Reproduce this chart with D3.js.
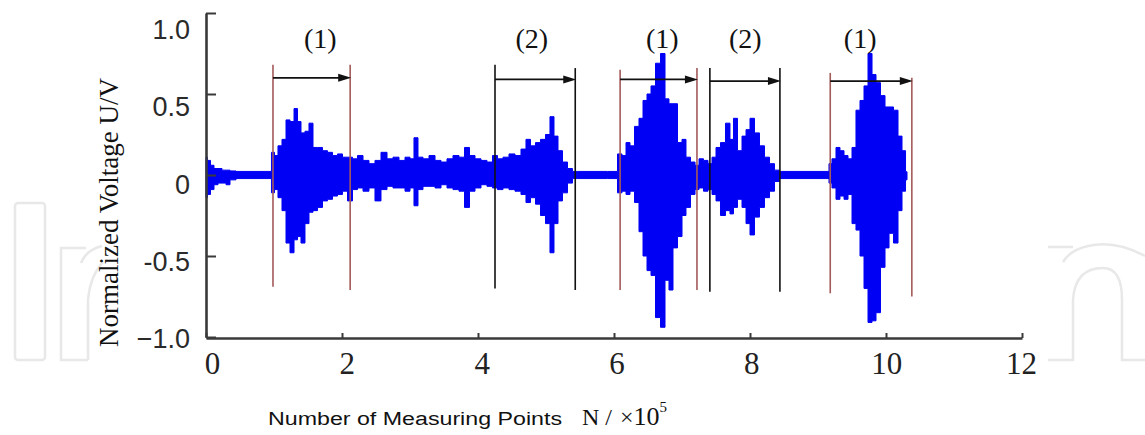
<!DOCTYPE html>
<html><head><meta charset="utf-8">
<script src="https://cdn.jsdelivr.net/npm/d3@7"></script>
<style>body{margin:0;background:#fff}svg{display:block}</style>
</head><body>
<svg id="c" width="1145" height="435"></svg>
<script>
// ---- data (x in units of 10^5 measuring points, y normalized voltage) ----
const xTicks = [0, 2, 4, 6, 8, 10, 12];
const xTickLabels = ["0", "2", "4", "6", "8", "10", "12"];
const yTicks = [1, 0.5, 0, -0.5, -1];
const yTickLabels = ["1.0", "0.5", "0", "-0.5", "\u22121.0"];

const sigN = [0.000,0.044,0.088,0.147,0.206,0.265,0.324,0.382,0.500,0.647,0.794,0.941,
  0.985,1.029,1.088,1.147,1.206,1.265,1.324,1.368,1.426,1.485,1.544,1.603,1.676,1.750,1.824,1.897,1.971,2.044,2.118,
  2.191,2.265,2.353,2.441,2.529,2.618,2.706,2.794,2.882,2.971,3.029,3.088,3.147,3.235,3.324,3.412,3.500,3.588,3.676,3.765,3.838,3.912,4.000,4.088,4.176,
  4.250,4.324,4.412,4.500,4.588,4.676,4.735,4.809,4.882,4.956,5.029,5.088,5.147,5.206,5.279,5.353,5.426,
  5.500,5.794,6.015,
  6.088,6.147,6.206,6.265,6.338,6.397,6.456,6.515,6.574,6.647,6.721,6.779,6.838,6.897,6.971,7.029,7.088,7.162,7.221,
  7.279,7.353,7.412,7.471,7.529,7.603,7.676,7.735,7.779,7.853,7.912,7.971,8.029,8.103,8.176,8.250,8.324,8.397,8.471,
  8.588,8.882,9.147,
  9.176,9.235,9.294,9.353,9.412,9.471,9.529,9.588,9.647,9.706,9.765,9.824,9.882,9.956,10.015,10.074,10.147,10.206,10.265,10.309];
const sigHi = [0.11,0.09,0.06,0.04,0.04,0.03,0.03,0.025,0.022,0.022,0.022,0.022,
  0.14,0.12,0.18,0.22,0.34,0.33,0.41,0.33,0.26,0.27,0.32,0.17,0.17,0.15,0.14,0.12,0.13,0.11,0.11,
  0.10,0.12,0.09,0.07,0.09,0.14,0.10,0.11,0.09,0.11,0.10,0.23,0.11,0.10,0.12,0.09,0.08,0.10,0.12,0.11,0.17,0.12,0.10,0.09,0.08,
  0.12,0.10,0.11,0.13,0.12,0.16,0.22,0.18,0.20,0.22,0.25,0.36,0.24,0.15,0.08,0.04,0.022,
  0.022,0.022,0.022,
  0.13,0.12,0.20,0.18,0.30,0.35,0.46,0.50,0.55,0.69,0.75,0.47,0.44,0.44,0.20,0.22,0.11,0.08,0.06,
  0.10,0.09,0.07,0.11,0.17,0.20,0.32,0.22,0.35,0.15,0.24,0.28,0.35,0.26,0.18,0.11,0.07,0.03,0.022,
  0.022,0.022,0.022,
  0.07,0.10,0.17,0.15,0.12,0.10,0.17,0.40,0.46,0.55,0.75,0.62,0.57,0.49,0.42,0.42,0.40,0.24,0.15,0.02];
const sigLo = [-0.14,-0.12,-0.09,-0.06,-0.05,-0.05,-0.06,-0.03,-0.022,-0.022,-0.022,-0.022,
  -0.11,-0.09,-0.14,-0.22,-0.42,-0.48,-0.40,-0.38,-0.42,-0.30,-0.23,-0.22,-0.20,-0.16,-0.15,-0.13,-0.12,-0.10,-0.16,
  -0.09,-0.08,-0.10,-0.08,-0.16,-0.09,-0.07,-0.08,-0.08,-0.10,-0.08,-0.19,-0.09,-0.07,-0.07,-0.08,-0.06,-0.08,-0.09,-0.10,-0.20,-0.10,-0.08,-0.06,-0.07,
  -0.08,-0.09,-0.08,-0.09,-0.10,-0.12,-0.17,-0.14,-0.18,-0.25,-0.30,-0.48,-0.30,-0.16,-0.11,-0.05,-0.022,
  -0.022,-0.022,-0.022,
  -0.11,-0.10,-0.12,-0.10,-0.17,-0.35,-0.50,-0.59,-0.62,-0.88,-0.94,-0.65,-0.71,-0.45,-0.38,-0.25,-0.20,-0.12,-0.09,
  -0.08,-0.10,-0.09,-0.12,-0.16,-0.25,-0.22,-0.24,-0.20,-0.15,-0.20,-0.30,-0.37,-0.26,-0.20,-0.14,-0.10,-0.04,-0.022,
  -0.022,-0.022,-0.022,
  -0.05,-0.08,-0.15,-0.13,-0.15,-0.12,-0.30,-0.34,-0.50,-0.70,-0.91,-0.90,-0.85,-0.57,-0.45,-0.36,-0.42,-0.22,-0.10,-0.03];

// segments (1)/(2)
const segStart = [0.985, 4.25, 6.09, 7.41, 9.18];
const segEnd   = [2.12, 5.43, 7.22, 8.44, 10.38];
const segType  = [1, 2, 1, 2, 1];
const segLabel = ["(1)", "(2)", "(1)", "(2)", "(1)"];
const segLabelN = [1.68, 4.79, 6.71, 7.93, 9.62];
const segTopL = [0.68, 0.68, 0.65, 0.66, 0.63];
const segTopR = [0.68, 0.66, 0.66, 0.66, 0.60];
const segBotL = [-0.69, -0.70, -0.71, -0.72, -0.73];
const segBotR = [-0.71, -0.71, -0.71, -0.72, -0.75];
const arrowV  = [0.60, 0.59, 0.59, 0.58, 0.58];
const labelV = 0.79;

// ---- drawing ----
const svg = d3.select("#c");
const x = d3.scaleLinear().domain([0, 12]).range([206, 1022]);
const y = d3.scaleLinear().domain([-1, 1]).range([337, 13]);
const xLab = d3.scaleLinear().domain([0, 12]).range([212, 1021]);
const yLab = d3.scaleLinear().domain([-1, 1]).range([338, 29]);

// watermark
const wm = svg.append("g").attr("fill", "none").attr("stroke", "#e8e8e8").attr("stroke-width", 2.5);
wm.append("rect").attr("x", 15).attr("y", 203).attr("width", 30).attr("height", 157).attr("rx", 3);
wm.append("path").attr("d", "M88 360 L61 360 L61 248 L86 248 M81 263 Q86 250 102 246 M88 360 L88 300 Q90 276 103 262");
wm.append("path").attr("d", "M1048 247 L1073 247 M1063 262 Q1070 250 1088 246 Q1115 240 1145 256 M1048 360 L1073 360 L1073 300 Q1075 268 1103 268 Q1122 268 1122 300 L1122 360 L1145 360");

// signal
const sig = sigN.map((n, i) => ({n, hi: sigHi[i], lo: sigLo[i]}));
const area = d3.area().x(d => x(d.n)).y0(d => y(d.lo)).y1(d => y(d.hi)).curve(d3.curveStep);
svg.append("path").datum(sig).attr("d", area).attr("fill", "#0000f5").attr("stroke", "#0000f5").attr("stroke-width", 1);

// segment lines
const segs = segStart.map((s, i) => ({s, e: segEnd[i], t: segType[i], lab: segLabel[i], ln: segLabelN[i],
  tl: segTopL[i], tr: segTopR[i], bl: segBotL[i], br: segBotR[i], a: arrowV[i]}));
const lineCol = d => d.t === 1 ? "#a35a5a" : "#111";
const sg = svg.append("g");
sg.selectAll("line.l").data(segs).join("line").attr("class", "l")
  .attr("x1", d => x(d.s)).attr("x2", d => x(d.s)).attr("y1", d => y(d.tl)).attr("y2", d => y(d.bl))
  .attr("stroke", lineCol).attr("stroke-width", 1.6);
sg.selectAll("line.r").data(segs).join("line").attr("class", "r")
  .attr("x1", d => x(d.e)).attr("x2", d => x(d.e)).attr("y1", d => y(d.tr)).attr("y2", d => y(d.br))
  .attr("stroke", lineCol).attr("stroke-width", 1.6);
sg.selectAll("line.a").data(segs).join("line").attr("class", "a")
  .attr("x1", d => x(d.s)).attr("x2", d => x(d.e) - 10).attr("y1", d => y(d.a)).attr("y2", d => y(d.a))
  .attr("stroke", "#111").attr("stroke-width", 1.8);
sg.selectAll("path.h").data(segs).join("path").attr("class", "h")
  .attr("d", d => { const ex = x(d.e) + 1, ay = y(d.a); return `M${ex} ${ay} L${ex - 13} ${ay - 4} L${ex - 13} ${ay + 4} Z`; })
  .attr("fill", "#111");
sg.selectAll("text").data(segs).join("text")
  .attr("x", d => x(d.ln)).attr("y", d => y(labelV) + 1).attr("text-anchor", "middle")
  .attr("font-family", "Liberation Serif, Times New Roman, serif").attr("font-size", 28).attr("fill", "#111")
  .text(d => d.lab);

// axes
const axCol = "#3a3a3a";
const gy = svg.append("g").attr("transform", "translate(206,0)")
  .call(d3.axisLeft(y).tickValues(yTicks).tickSize(-10).tickSizeOuter(0).tickFormat(""));
const gx = svg.append("g").attr("transform", "translate(0,338)")
  .call(d3.axisBottom(x).tickValues(xTicks).tickSize(-5).tickSizeOuter(0).tickFormat(""));
[gy, gx].forEach(g => {
  g.select(".domain").attr("stroke", axCol).attr("stroke-width", 2.6);
  g.selectAll(".tick line").attr("stroke", axCol).attr("stroke-width", 2);
});

const gyl = svg.append("g").attr("transform", "translate(190,0)")
  .call(d3.axisLeft(yLab).tickValues(yTicks).tickSize(0).tickPadding(0).tickFormat((d, i) => yTickLabels[i]));
gyl.select(".domain").remove();
gyl.selectAll("text").attr("font-family", "Liberation Sans, Arial, sans-serif").attr("font-size", 27)
  .attr("fill", "#2a2a2a").attr("dy", "0.36em");

const gxl = svg.append("g").attr("transform", "translate(0,0)")
  .call(d3.axisBottom(xLab).tickValues(xTicks).tickSize(0).tickPadding(0).tickFormat((d, i) => xTickLabels[i]));
gxl.select(".domain").remove();
gxl.selectAll("text").attr("font-family", "Liberation Serif, Times New Roman, serif").attr("font-size", 31)
  .attr("fill", "#222").attr("dy", null).attr("y", 374);

// titles
svg.append("text").attr("transform", "translate(118,347) rotate(-90)")
  .attr("font-family", "Liberation Serif, Times New Roman, serif").attr("font-size", 27).attr("fill", "#111")
  .text("Normalized Voltage U/V");
svg.append("text").attr("x", 268).attr("y", 425)
  .attr("font-family", "Liberation Sans, Arial, sans-serif").attr("font-size", 18).attr("fill", "#111")
  .attr("textLength", 294).attr("lengthAdjust", "spacingAndGlyphs")
  .text("Number of Measuring Points");
const t2 = svg.append("text").attr("x", 582).attr("y", 425)
  .attr("font-family", "Liberation Serif, Times New Roman, serif").attr("font-size", 24).attr("fill", "#111");
t2.append("tspan").text("N");
t2.append("tspan").attr("dx", 6).text("/");
t2.append("tspan").attr("dx", 8).text("\u00d7");
t2.append("tspan").attr("font-size", 26).text("10");
t2.append("tspan").attr("dy", -13).attr("font-size", 15).text("5");
</script>
</body></html>
